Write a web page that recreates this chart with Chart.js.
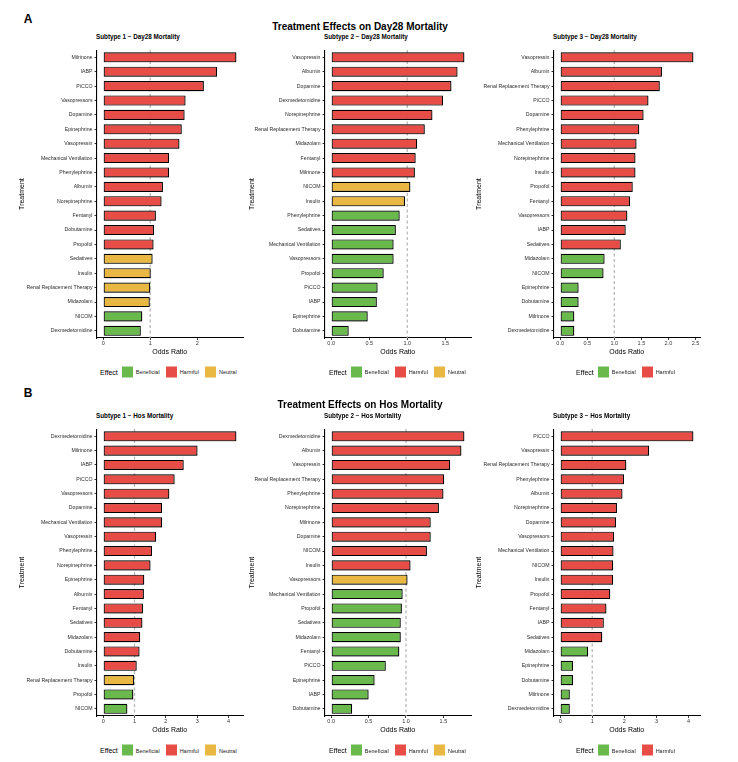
<!DOCTYPE html>
<html>
<head>
<meta charset="utf-8">
<script src="https://cdn.jsdelivr.net/npm/chart.js@4.4.1/dist/chart.umd.min.js"></script>
<style>
  body { margin: 0; background: #fff; font-family: "Liberation Sans", Arial, sans-serif; }
  #fig { position: relative; width: 738px; height: 762px; overflow: hidden; }
  .t { position: absolute; white-space: nowrap; transform: translate(-50%, -50%); color: #000; }
  .letter { font-size: 12px; font-weight: bold; }
  .main { font-size: 10px; font-weight: bold; }
  .sub { position: absolute; white-space: nowrap; font-size: 6.3px; font-weight: bold; transform: translateY(-50%); color: #000; }
  .panel { position: absolute; }
  .legend { position: absolute; display: flex; align-items: center; transform: translateY(-50%); white-space: nowrap; }
  .legend .ttl { font-size: 7px; margin-right: 4px; }
  .legend .sw { width: 11px; height: 11px; margin-right: 3px; }
  .legend .lab { font-size: 5.5px; margin-right: 6px; color: #222; }
</style>
</head>
<body>
<div id="fig"></div>
<script>
// ---- data (top to bottom, as shown) ----
const a1Labels = ["Milrinone", "IABP", "PiCCO", "Vasopressors", "Dopamine", "Epinephrine", "Vasopressin",
  "Mechanical Ventilation", "Phenylephrine", "Albumin", "Norepinephrine", "Fentanyl", "Dobutamine", "Propofol",
  "Sedatives", "Insulin", "Renal Replacement Therapy", "Midazolam", "NICOM", "Dexmedetomidine"];
const a1Values = [2.83, 2.42, 2.14, 1.75, 1.73, 1.67, 1.62, 1.40, 1.40, 1.27, 1.24, 1.12, 1.08, 1.07,
  1.05, 1.01, 1.00, 0.99, 0.83, 0.80];
const a1Effects = ["H","H","H","H","H","H","H","H","H","H","H","H","H","H","N","N","N","N","B","B"];

const a2Labels = ["Vasopressin", "Albumin", "Dopamine", "Dexmedetomidine", "Norepinephrine", "Renal Replacement Therapy",
  "Midazolam", "Fentanyl", "Milrinone", "NICOM", "Insulin", "Phenylephrine", "Sedatives", "Mechanical Ventilation",
  "Vasopressors", "Propofol", "PiCCO", "IABP", "Epinephrine", "Dobutamine"];
const a2Values = [1.75, 1.66, 1.58, 1.47, 1.33, 1.23, 1.13, 1.11, 1.10, 1.04, 0.97, 0.90, 0.85, 0.82,
  0.82, 0.69, 0.61, 0.60, 0.48, 0.23];
const a2Effects = ["H","H","H","H","H","H","H","H","H","N","N","B","B","B","B","B","B","B","B","B"];

const a3Labels = ["Vasopressin", "Albumin", "Renal Replacement Therapy", "PiCCO", "Dopamine", "Phenylephrine",
  "Mechanical Ventilation", "Norepinephrine", "Insulin", "Propofol", "Fentanyl", "Vasopressors", "IABP", "Sedatives",
  "Midazolam", "NICOM", "Epinephrine", "Dobutamine", "Milrinone", "Dexmedetomidine"];
const a3Values = [2.46, 1.88, 1.84, 1.63, 1.54, 1.46, 1.41, 1.39, 1.39, 1.34, 1.29, 1.24, 1.21, 1.12,
  0.82, 0.80, 0.34, 0.34, 0.26, 0.26];
const a3Effects = ["H","H","H","H","H","H","H","H","H","H","H","H","H","H","B","B","B","B","B","B"];

const b1Labels = ["Dexmedetomidine", "Milrinone", "IABP", "PiCCO", "Vasopressors", "Dopamine", "Mechanical Ventilation",
  "Vasopressin", "Phenylephrine", "Norepinephrine", "Epinephrine", "Albumin", "Fentanyl", "Sedatives", "Midazolam",
  "Dobutamine", "Insulin", "Renal Replacement Therapy", "Propofol", "NICOM"];
const b1Values = [4.25, 3.01, 2.57, 2.28, 2.11, 1.88, 1.88, 1.69, 1.56, 1.51, 1.31, 1.30, 1.27, 1.25, 1.18,
  1.16, 1.07, 0.99, 0.96, 0.77];
const b1Effects = ["H","H","H","H","H","H","H","H","H","H","H","H","H","H","H","H","H","N","B","B"];

const b2Labels = ["Dexmedetomidine", "Albumin", "Vasopressin", "Renal Replacement Therapy", "Phenylephrine",
  "Norepinephrine", "Milrinone", "Dopamine", "NICOM", "Insulin", "Vasopressors", "Mechanical Ventilation", "Propofol",
  "Sedatives", "Midazolam", "Fentanyl", "PiCCO", "Epinephrine", "IABP", "Dobutamine"];
const b2Values = [1.78, 1.74, 1.59, 1.51, 1.50, 1.44, 1.33, 1.33, 1.28, 1.06, 1.02, 0.955, 0.945,
  0.93, 0.93, 0.91, 0.73, 0.58, 0.50, 0.28];
const b2Effects = ["H","H","H","H","H","H","H","H","H","H","N","B","B","B","B","B","B","B","B","B"];

const b3Labels = ["PiCCO", "Vasopressin", "Renal Replacement Therapy", "Phenylephrine", "Albumin", "Norepinephrine",
  "Dopamine", "Vasopressors", "Mechanical Ventilation", "NICOM", "Insulin", "Propofol", "Fentanyl", "IABP",
  "Sedatives", "Midazolam", "Epinephrine", "Dobutamine", "Milrinone", "Dexmedetomidine"];
const b3Values = [4.15, 2.77, 2.06, 1.99, 1.94, 1.77, 1.74, 1.68, 1.66, 1.65, 1.65, 1.56, 1.44, 1.36,
  1.31, 0.87, 0.40, 0.40, 0.30, 0.30];
const b3Effects = ["H","H","H","H","H","H","H","H","H","H","H","H","H","H","H","B","B","B","B","B"];

const ticksA1 = [0, 1, 2];
const ticksA2 = [0, 0.5, 1, 1.5];
const ticksA3 = [0, 0.5, 1, 1.5, 2, 2.5];
const ticksB1 = [0, 1, 2, 3, 4];
const ticksB2 = [0, 0.5, 1, 1.5];
const ticksB3 = [0, 1, 2, 3, 4];

const EFFECT_COLORS = { B: "#6ab94c", H: "#e74c47", N: "#e8b843" };
const EFFECT_NAMES = { B: "Beneficial", H: "Harmful", N: "Neutral" };

Chart.defaults.font.family = '"Liberation Sans", Arial, sans-serif';

const fig = document.getElementById("fig");

// reference line at OR = 1 (behind bars) + soft shadow for the bars
const refLinePlugin = {
  id: "refLine",
  beforeDatasetsDraw(chart) {
    const { ctx, chartArea, scales } = chart;
    const px = scales.x.getPixelForValue(1);
    ctx.save();
    ctx.strokeStyle = "#b9b9b9";
    ctx.lineWidth = 1.3;
    ctx.setLineDash([3, 2.5]);
    ctx.beginPath();
    ctx.moveTo(px, chartArea.top);
    ctx.lineTo(px, chartArea.bottom);
    ctx.stroke();
    ctx.restore();
    ctx.save();
    ctx.shadowColor = "rgba(0,0,0,0.4)";
    ctx.shadowBlur = 2;
    ctx.shadowOffsetX = 0.8;
    ctx.shadowOffsetY = 0.8;
  },
  afterDatasetsDraw(chart) {
    chart.ctx.restore();
  }
};

function addText(cls, text, x, y) {
  const d = document.createElement("div");
  d.className = cls;
  d.textContent = text;
  d.style.left = x + "px";
  d.style.top = y + "px";
  fig.appendChild(d);
}

function addLegend(x, y, keys) {
  const lg = document.createElement("div");
  lg.className = "legend";
  lg.style.left = x + "px";
  lg.style.top = y + "px";
  let html = '<span class="ttl">Effect</span>';
  keys.forEach(k => {
    html += `<span class="sw" style="background:${EFFECT_COLORS[k]}"></span><span class="lab">${EFFECT_NAMES[k]}</span>`;
  });
  lg.innerHTML = html;
  fig.appendChild(lg);
}

// col: canvas left, axis x, right x ; row: top, bottom of plot area
const COLS = [
  { left: 18, axis: 96.5, right: 243 },
  { left: 248, axis: 324.5, right: 471 },
  { left: 475, axis: 553.5, right: 700 }
];
const ROWS = [
  { top: 45, bottom: 338 },
  { top: 424, bottom: 716 }
];
const X_AXIS_H = 18;

function makePanel(col, row, labels, values, effects, ticks, digits) {
  const c = COLS[col], r = ROWS[row];
  const padRight = 6;
  const w = Math.round(c.right + padRight - c.left);
  const h = Math.round(r.bottom - r.top + X_AXIS_H);
  const holder = document.createElement("div");
  holder.className = "panel";
  holder.style.left = c.left + "px";
  holder.style.top = r.top + "px";
  holder.style.width = w + "px";
  holder.style.height = h + "px";
  const canvas = document.createElement("canvas");
  canvas.width = w;
  canvas.height = h;
  canvas.style.width = w + "px";
  canvas.style.height = h + "px";
  holder.appendChild(canvas);
  fig.appendChild(holder);

  const vmax = Math.max(...values);
  const yWidth = c.axis - c.left;

  new Chart(canvas, {
    type: "bar",
    data: {
      labels: labels,
      datasets: [{
        data: values,
        backgroundColor: effects.map(e => EFFECT_COLORS[e]),
        borderColor: "#000",
        borderWidth: 1.15,
        borderSkipped: false,
        barPercentage: 0.7,
        categoryPercentage: 1
      }]
    },
    options: {
      indexAxis: "y",
      responsive: false,
      animation: false,
      layout: { padding: { left: 0, right: padRight, top: 0, bottom: 0 } },
      plugins: { legend: { display: false }, tooltip: { enabled: false } },
      scales: {
        x: {
          type: "linear",
          min: -0.05 * vmax,
          max: 1.05 * vmax,
          afterBuildTicks: axis => { axis.ticks = ticks.map(v => ({ value: v })); },
          afterFit: s => { s.height = X_AXIS_H; },
          ticks: {
            callback: v => Number(v).toFixed(digits),
            font: { size: 5.5 },
            color: "#333",
            padding: 0.5,
            maxRotation: 0,
            autoSkip: false
          },
          grid: { drawOnChartArea: false, drawTicks: true, tickLength: 2, color: "#333" },
          border: { display: true, color: "#000", width: 1.1 },
          title: { display: true, text: "Odds Ratio", font: { size: 7 }, color: "#000", padding: 0 }
        },
        y: {
          afterFit: s => { s.width = yWidth; },
          ticks: { font: { size: 5.2 }, color: "#2b2b2b", padding: 2, autoSkip: false },
          grid: { offset: false, drawOnChartArea: false, drawTicks: true, tickLength: 2, color: "#333" },
          border: { display: true, color: "#000", width: 1.1 },
          title: { display: true, text: "Treatment", font: { size: 7 }, color: "#000", padding: 0 }
        }
      }
    },
    plugins: [refLinePlugin]
  });
}

// ---- row A ----
addText("t letter", "A", 28, 19);
addText("t main", "Treatment Effects on Day28 Mortality", 360, 25.5);
addText("sub", "Subtype 1 \u2212 Day28 Mortality", 96, 36);
addText("sub", "Subtype 2 \u2212 Day28 Mortality", 324, 36);
addText("sub", "Subtype 3 \u2212 Day28 Mortality", 553, 36);
makePanel(0, 0, a1Labels, a1Values, a1Effects, ticksA1, 0);
makePanel(1, 0, a2Labels, a2Values, a2Effects, ticksA2, 1);
makePanel(2, 0, a3Labels, a3Values, a3Effects, ticksA3, 1);
addLegend(100, 371.5, ["B", "H", "N"]);
addLegend(329, 371.5, ["B", "H", "N"]);
addLegend(576, 371.5, ["B", "H"]);

// ---- row B ----
addText("t letter", "B", 28, 393);
addText("t main", "Treatment Effects on Hos Mortality", 360, 403.5);
addText("sub", "Subtype 1 \u2212 Hos Mortality", 96, 414.5);
addText("sub", "Subtype 2 \u2212 Hos Mortality", 324, 414.5);
addText("sub", "Subtype 3 \u2212 Hos Mortality", 553, 414.5);
makePanel(0, 1, b1Labels, b1Values, b1Effects, ticksB1, 0);
makePanel(1, 1, b2Labels, b2Values, b2Effects, ticksB2, 1);
makePanel(2, 1, b3Labels, b3Values, b3Effects, ticksB3, 0);
addLegend(100, 750, ["B", "H", "N"]);
addLegend(329, 750, ["B", "H", "N"]);
addLegend(576, 750, ["B", "H"]);
</script>
</body>
</html>
